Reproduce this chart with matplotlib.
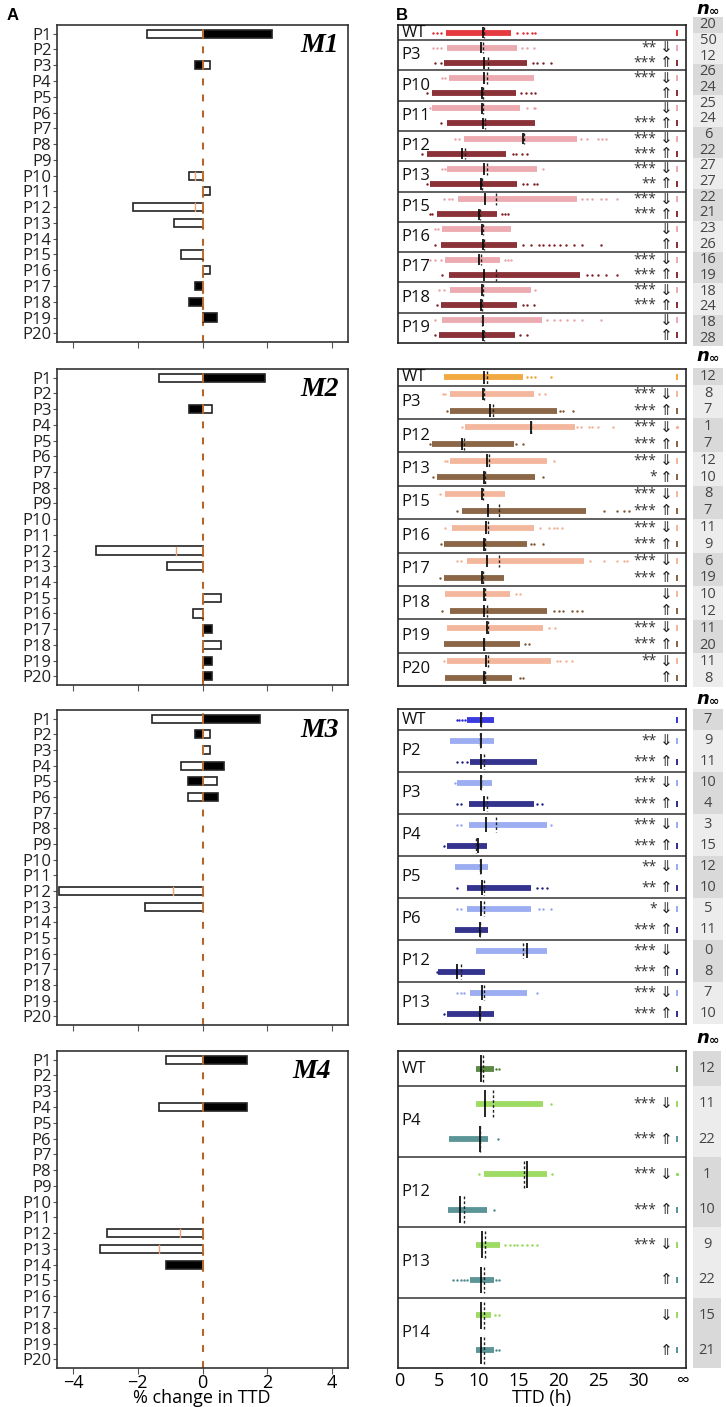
import numpy as np
import matplotlib
matplotlib.use('Agg')
import matplotlib.pyplot as plt

W, H = 726, 1407

# ---------------- panel A: % change in TTD ----------------
positions = ['P%d' % i for i in range(1, 21)]

m1_bar_row = ['P1', 'P1', 'P3', 'P3', 'P10', 'P11', 'P12', 'P13', 'P15', 'P16', 'P17', 'P18', 'P19']
m1_bar_lo = [-1.71, 0, -0.22, 0, -0.43, 0, -2.14, -0.87, -0.65, 0, -0.22, -0.43, 0]
m1_bar_hi = [0, 2.15, 0, 0.22, 0, 0.22, 0, 0, 0, 0.22, 0, 0, 0.44]
m1_bar_black = [0, 1, 1, 0, 0, 0, 0, 0, 0, 0, 1, 1, 1]
m1_mark_row = ['P10', 'P12']
m1_mark_x = [-0.22, -0.22]

m2_bar_row = ['P1', 'P1', 'P3', 'P3', 'P12', 'P13', 'P15', 'P16', 'P17', 'P18', 'P19', 'P20']
m2_bar_lo = [-1.36, 0, -0.42, 0, -3.28, -1.09, 0, -0.28, 0, 0, 0, 0]
m2_bar_hi = [0, 1.93, 0, 0.28, 0, 0, 0.56, 0, 0.29, 0.56, 0.29, 0.29]
m2_bar_black = [0, 1, 1, 0, 0, 0, 0, 0, 1, 0, 1, 1]
m2_mark_row = ['P12']
m2_mark_x = [-0.81]

m3_bar_row = ['P1', 'P1', 'P2', 'P2', 'P3', 'P4', 'P4', 'P5', 'P5', 'P6', 'P6', 'P12', 'P13']
m3_bar_lo = [-1.55, 0, -0.23, 0, 0, -0.67, 0, -0.45, 0, -0.45, 0, -4.44, -1.78]
m3_bar_hi = [0, 1.79, 0, 0.23, 0.23, 0, 0.67, 0, 0.44, 0, 0.48, 0, 0]
m3_bar_black = [0, 1, 1, 0, 0, 0, 1, 1, 0, 0, 1, 0, 0]
m3_mark_row = ['P12']
m3_mark_x = [-0.9]

m4_bar_row = ['P1', 'P1', 'P4', 'P4', 'P12', 'P13', 'P14']
m4_bar_lo = [-1.14, 0, -1.36, 0, -2.95, -3.18, -1.14]
m4_bar_hi = [0, 1.37, 0, 1.37, 0, 0, 0]
m4_bar_black = [0, 1, 0, 1, 0, 0, 1]
m4_mark_row = ['P12', 'P13']
m4_mark_x = [-0.69, -1.36]

# ---------------- panel B: TTD strips ----------------
m1_groups = ['WT', 'P3', 'P10', 'P11', 'P12', 'P13', 'P15', 'P16', 'P17', 'P18', 'P19']
m1_lo = [5.9, 6.0, 5.6, 6.2, 4.1, 4.1, 6.0, 8.1, 3.5, 6.0, 3.9, 7.4, 4.7, 5.4, 5.2, 5.8, 6.2, 6.4, 5.2, 5.4, 5.0]
m1_hi = [14.0, 14.8, 16.1, 16.9, 14.6, 15.2, 17.1, 22.3, 13.4, 17.3, 14.8, 22.3, 12.3, 14.0, 14.8, 12.7, 22.7,
         16.5, 14.8, 17.9, 14.5]
m1_sparse = [[4.3, 4.8, 5.2, 14.8, 15.6, 16.0, 16.7, 17.1], [4.3, 4.7, 5.2, 15.4, 16.1, 16.9],
             [4.5, 5.2, 16.8, 17.3, 18.1, 19.0], [5.4, 5.8], [3.5, 15.3, 15.9, 16.5, 17.1],
             [3.9, 16.0, 16.9, 17.1], [5.2], [7.0, 7.5, 22.8, 23.6, 24.9, 25.5, 26.0],
             [2.9, 14.3, 14.6, 15.4, 16.1], [5.4, 5.8, 18.1], [3.5, 15.6, 16.1, 16.9, 17.3],
             [5.6, 6.2, 6.6, 22.9, 23.6, 24.2, 25.3, 25.9, 27.3], [3.9, 4.1, 12.9, 13.3, 13.7], [4.5, 4.9],
             [4.5, 15.6, 16.5, 17.5, 18.1, 18.8, 19.4, 20.2, 20.9, 21.9, 23.0, 25.3],
             [3.9, 4.5, 5.2, 13.3, 13.7, 14.0], [5.4, 23.6, 24.2, 25.0, 25.9, 27.3], [5.0, 5.6, 17.1],
             [4.7, 15.6, 16.1, 16.9], [4.5, 18.5, 19.4, 20.2, 21.1, 21.9, 23.0, 25.3], [4.5, 15.2, 16.0]]
m1_median = [10.5, 10.3, 10.7, 10.7, 10.4, 10.4, 10.5, 15.6, 7.9, 10.6, 10.3, 10.8, 10.0, 10.4, 10.5, 10.0,
             10.7, 10.4, 10.3, 10.5, 10.5]
m1_mean = [10.7, 10.5, 11.1, 11.0, 10.5, 10.5, 10.8, 15.7, 8.2, 11.0, 10.4, 12.1, 10.1, 10.5, 10.7, 10.3,
           12.1, 10.5, 10.4, 10.4, 10.6]
m1_stars = ['', '**', '***', '***', '', '', '***', '***', '***', '***', '**', '***', '***', '', '', '***', '***',
            '***', '***', '', '']
m1_ninf = [20, 50, 12, 26, 24, 25, 24, 6, 22, 27, 27, 22, 21, 23, 26, 16, 19, 18, 24, 18, 28]

m2_groups = ['WT', 'P3', 'P12', 'P13', 'P15', 'P16', 'P17', 'P18', 'P19', 'P20']
m2_lo = [5.6, 6.4, 6.4, 8.3, 4.1, 6.4, 4.7, 5.8, 7.9, 6.6, 5.6, 8.5, 5.6, 5.8, 6.4, 6.0, 5.6, 6.0, 5.8]
m2_hi = [15.6, 16.9, 19.8, 22.1, 14.4, 18.5, 17.0, 13.3, 23.4, 16.9, 16.0, 23.2, 13.1, 13.9, 18.5, 18.1, 15.2,
         19.0, 14.1]
m2_sparse = [[16.1, 16.5, 17.1, 19.0], [5.5, 5.8, 17.5, 18.3], [6.0, 20.2, 20.6, 21.8],
             [7.9, 22.3, 22.8, 23.8, 24.2, 25.0, 26.8], [3.9, 14.6, 15.6], [5.8, 6.0, 19.4], [4.3, 18.1], [5.1],
             [7.2, 25.7, 27.3, 28.2, 28.8], [5.8, 17.7, 18.8, 19.4, 19.8, 20.4], [5.2, 16.5, 16.9, 18.1],
             [7.2, 7.7, 24.0, 25.7, 27.3, 28.2, 28.6], [5.1], [14.6, 15.2],
             [5.4, 19.4, 20.0, 20.6, 21.7, 22.3, 22.9], [18.8, 19.6], [15.8, 16.3],
             [5.6, 19.8, 20.2, 20.9, 21.7], [15.2, 15.6]]
m2_median = [10.7, 10.5, 11.4, 16.5, 7.9, 11.0, 10.7, 10.4, 11.1, 10.9, 10.6, 11.0, 10.4, 10.7, 10.6, 11.0,
             10.6, 10.9, 10.6]
m2_mean = [11.0, 10.7, 11.8, 16.5, 8.1, 11.3, 10.8, 10.5, 12.5, 11.1, 10.8, 12.5, 10.5, 10.8, 11.0, 11.2,
           10.7, 11.1, 10.8]
m2_stars = ['', '***', '***', '***', '***', '***', '*', '***', '***', '***', '***', '***', '***', '', '', '***',
            '***', '**', '']
m2_ninf = [12, 8, 7, 1, 7, 12, 10, 8, 7, 11, 9, 6, 19, 10, 12, 11, 20, 11, 8]

m3_groups = ['WT', 'P2', 'P3', 'P4', 'P5', 'P6', 'P12', 'P13']
m3_lo = [8.5, 6.4, 8.9, 7.2, 8.7, 8.7, 6.0, 7.0, 8.5, 8.5, 7.0, 9.6, 4.9, 8.9, 6.0]
m3_hi = [11.9, 11.9, 17.3, 11.7, 16.9, 18.5, 11.0, 11.2, 16.5, 16.5, 11.2, 18.5, 10.8, 16.0, 11.9]
m3_sparse = [[7.2, 7.5, 7.9, 8.3], [], [7.3, 7.9, 8.5], [7.0], [7.2, 7.7, 17.3, 17.9], [7.2, 7.7, 19.0],
             [5.6], [], [7.2, 17.3, 17.9, 18.5], [7.2, 7.7, 17.5, 18.1, 19.0], [], [], [4.7],
             [7.2, 7.7, 8.1, 17.3], [5.6]]
m3_median = [10.3, 10.3, 10.3, 10.3, 10.6, 10.9, 9.9, 10.3, 10.4, 10.3, 10.2, 16.0, 7.3, 10.4, 10.2]
m3_mean = [10.3, 10.2, 10.7, 10.3, 11.0, 12.2, 9.6, 10.2, 10.7, 10.7, 10.2, 15.6, 7.7, 10.6, 10.2]
m3_stars = ['', '**', '***', '***', '***', '***', '***', '**', '**', '*', '***', '***', '***', '***', '***']
m3_ninf = [7, 9, 11, 10, 4, 3, 15, 12, 10, 5, 11, 0, 8, 7, 10]

m4_groups = ['WT', 'P4', 'P12', 'P13', 'P14']
m4_lo = [9.6, 9.6, 6.3, 10.6, 6.1, 9.6, 8.9, 9.6, 9.6]
m4_hi = [11.9, 18.1, 11.2, 18.5, 11.0, 12.7, 11.9, 11.5, 11.9]
m4_sparse = [[12.2, 12.5], [19.0], [12.4], [10.0, 19.2], [11.9],
             [13.3, 13.9, 14.4, 14.8, 15.4, 16.0, 16.7, 17.3], [6.8, 7.2, 7.7, 8.1, 8.5, 12.2, 12.5],
             [12.0, 12.5], [12.2, 12.5]]
m4_median = [10.3, 10.8, 10.2, 16.1, 7.6, 10.4, 10.3, 10.3, 10.3]
m4_mean = [10.5, 11.8, 10.2, 15.7, 8.1, 10.8, 10.7, 10.6, 10.7]
m4_stars = ['', '***', '***', '***', '***', '***', '', '', '']
m4_ninf = [12, 11, 22, 1, 10, 9, 22, 15, 21]

ttd_ticks = [0, 5, 10, 15, 20, 25, 30]

# colours: WT, light (down), dark (up)
colors = [('#e3262b', '#eaa2a8', '#7d1c22'),
          ('#f0a02c', '#f2b092', '#7e5634'),
          ('#2424dc', '#92a4f0', '#1e1e82'),
          ('#4b7c33', '#92d853', '#4a8a8c')]

plt.rcParams['font.family'] = ['Open Sans', 'DejaVu Sans']


def box(x0, y0, x1, y1):
    return [x0 / W, 1 - y1 / H, (x1 - x0) / W, (y1 - y0) / H]


def draw_bars(ax, rows, lo, hi, black, mark_row, mark_x, label, label_x, bottom):
    idx = {p: i for i, p in enumerate(positions)}
    ax.axvline(0, color='#b5652a', lw=1.5, ls=(0, (3.3, 4.4)), zorder=1)
    for r, a, b, k in zip(rows, lo, hi, black):
        ax.barh(idx[r], b - a, left=a, height=0.52, color='black' if k else 'white',
                edgecolor='#222222', lw=1.2, zorder=3)
    for r in set(rows):
        ax.plot([0, 0], [idx[r] - 0.25, idx[r] + 0.25], color='#d9782f', lw=1.2, zorder=4)
    for r, x in zip(mark_row, mark_x):
        ax.plot([x, x], [idx[r] - 0.25, idx[r] + 0.25], color='#f0a070', lw=1.0, zorder=4)
    ax.set_xlim(-4.5, 4.5)
    ax.set_ylim(19.55, -0.55)
    ax.set_yticks(range(20))
    ax.set_yticklabels(positions, fontsize=12, color='#222222')
    ax.set_xticks([-4, -2, 0, 2, 4])
    ax.tick_params(axis='y', length=3, pad=1, color='#555555')
    ax.tick_params(axis='x', length=4, pad=0, color='#555555', labelsize=13)
    if not bottom:
        ax.set_xticklabels([])
    for s in ax.spines.values():
        s.set_color('#333333')
        s.set_linewidth(1.2)
    ax.text(label_x, 0.975, label, transform=ax.transAxes, ha='right', va='top',
            fontsize=20, fontweight='bold', style='italic', family='Liberation Serif')


def draw_strips(ax, groups, lo, hi, sparse, med, mean, stars, cols, bottom):
    n = len(lo)
    for i in range(n):
        y = i + 0.5
        c = cols[0] if i == 0 else (cols[1] if i % 2 == 1 else cols[2])
        ax.plot([lo[i], hi[i]], [y, y], color=c, lw=4.2, solid_capstyle='butt', alpha=0.9, zorder=2)
        if sparse[i]:
            ax.scatter(sparse[i], [y] * len(sparse[i]), s=3, color=c, lw=0, zorder=2)
        ax.vlines(med[i], y - 0.38, y + 0.38, color='black', lw=1.2, zorder=3)
        ax.vlines(mean[i], y - 0.38, y + 0.38, color='#222222', lw=1.0, linestyles=(0, (2, 1.5)), zorder=3)
        if stars[i]:
            ax.text(32.3, y, stars[i], ha='right', va='center', fontsize=10, color='#333333')
        if i > 0:
            ax.text(33.5, y, '\u21d3' if i % 2 == 1 else '\u21d1', ha='center', va='center',
                    fontsize=11, family='DejaVu Sans', color='#222222')
    for j in range(1, n, 2):
        ax.axhline(j, color='#444444', lw=1.2)
    for g, name in enumerate(groups):
        yc = 0.5 if g == 0 else 2 * g
        ax.text(0.3, yc, name, ha='left', va='center', fontsize=12, color='#111111')
    ax.set_xlim(-0.15, 36)
    ax.set_ylim(n, 0)
    ax.set_yticks([])
    ax.set_xticks(ttd_ticks + [35.6])
    ax.tick_params(axis='x', length=0, labelsize=13, pad=3)
    if bottom:
        ax.set_xticklabels([str(t) for t in ttd_ticks] + ['\u221e'])
    else:
        ax.set_xticklabels([])
    for s in ax.spines.values():
        s.set_color('#222222')
        s.set_linewidth(1.2)


def draw_inf_dots(ax, ninf, cols):
    for i, v in enumerate(ninf):
        if v == 0:
            continue
        c = cols[0] if i == 0 else (cols[1] if i % 2 == 1 else cols[2])
        ax.plot(34.9, i + 0.5, marker='|' if v > 2 else '.', ms=4 if v > 2 else 2, mew=1.3, color=c)


def draw_ninf(ax, ninf):
    n = len(ninf)
    for i, v in enumerate(ninf):
        g = 0 if i == 0 else (i + 1) // 2
        ax.axhspan(i, i + 1, color='#d9d9d9' if g % 2 == 0 else '#ececec', lw=0)
        ax.text(0.5, i + 0.5, str(v), ha='center', va='center', fontsize=10.5, color='#444444')
    ax.set_xlim(0, 1)
    ax.set_ylim(n, 0)
    ax.axis('off')


fig = plt.figure(figsize=(W / 100, H / 100), dpi=100)

left_boxes = [(57, 25, 348, 342), (57, 369, 348, 685), (57, 710, 348, 1025), (57, 1051, 348, 1368)]
right_boxes = [(398, 25, 686, 343), (398, 369, 686, 686), (398, 709, 686, 1024), (398, 1051, 686, 1368)]
ninf_boxes = [(693, 17, 723, 346), (693, 368, 723, 687), (693, 709, 723, 1024), (693, 1051, 721, 1368)]
ninf_label_top = [0, 347, 690, 1029]
m_label_x = [0.97, 0.97, 0.97, 0.94]

bars = [(m1_bar_row, m1_bar_lo, m1_bar_hi, m1_bar_black, m1_mark_row, m1_mark_x),
        (m2_bar_row, m2_bar_lo, m2_bar_hi, m2_bar_black, m2_mark_row, m2_mark_x),
        (m3_bar_row, m3_bar_lo, m3_bar_hi, m3_bar_black, m3_mark_row, m3_mark_x),
        (m4_bar_row, m4_bar_lo, m4_bar_hi, m4_bar_black, m4_mark_row, m4_mark_x)]
strips = [(m1_groups, m1_lo, m1_hi, m1_sparse, m1_median, m1_mean, m1_stars, m1_ninf),
          (m2_groups, m2_lo, m2_hi, m2_sparse, m2_median, m2_mean, m2_stars, m2_ninf),
          (m3_groups, m3_lo, m3_hi, m3_sparse, m3_median, m3_mean, m3_stars, m3_ninf),
          (m4_groups, m4_lo, m4_hi, m4_sparse, m4_median, m4_mean, m4_stars, m4_ninf)]

for k in range(4):
    bottom = k == 3
    axl = fig.add_axes(box(*left_boxes[k]))
    draw_bars(axl, *bars[k], label='M%d' % (k + 1), label_x=m_label_x[k], bottom=bottom)

    axr = fig.add_axes(box(*right_boxes[k]))
    g, lo, hi, sp, med, mean, st, ninf = strips[k]
    draw_strips(axr, g, lo, hi, sp, med, mean, st, colors[k], bottom)
    draw_inf_dots(axr, ninf, colors[k])

    axn = fig.add_axes(box(*ninf_boxes[k]))
    draw_ninf(axn, ninf)

    fy = 1 - ninf_label_top[k] / H
    fig.text(703 / W, fy, 'n', ha='center', va='top', fontsize=13, fontweight='bold',
             style='italic', family='DejaVu Sans')
    fig.text(714 / W, fy - 5 / H, '\u221e', ha='center', va='top', fontsize=9, fontweight='bold',
             family='DejaVu Sans')

# axis titles placed under the bottom row of panels
fig.text(202 / W, 1 - 1398 / H, '% change in TTD', ha='center', va='center', fontsize=13)
fig.text(542 / W, 1 - 1398 / H, 'TTD (h)', ha='center', va='center', fontsize=13)

fig.text(13 / W, 1 - 15 / H, 'A', ha='center', va='center', fontsize=12, fontweight='bold',
         family='Liberation Sans')
fig.text(402 / W, 1 - 15 / H, 'B', ha='center', va='center', fontsize=12, fontweight='bold',
         family='Liberation Sans')

fig.savefig('out.png', dpi=100)
